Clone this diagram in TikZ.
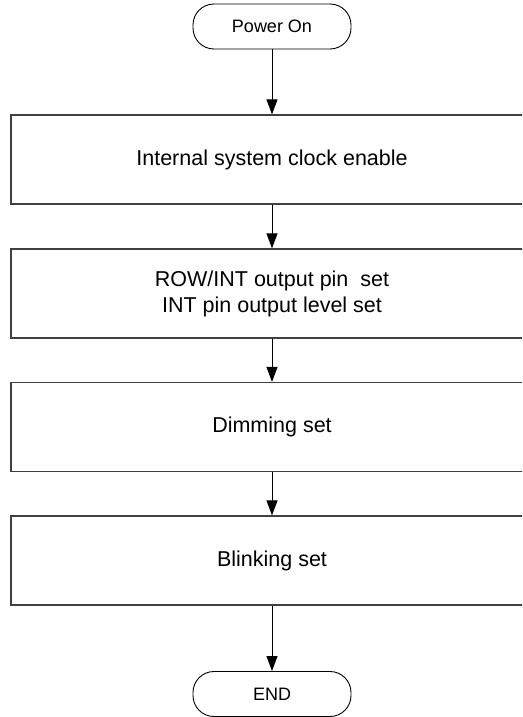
\documentclass[tikz,border=0pt]{standalone}
\usepackage{fontspec}
\setmainfont{Liberation Sans}
\usetikzlibrary{arrows.meta}
\begin{document}
\begin{tikzpicture}[x=1pt,y=-1pt,
  stepbox/.style={draw=black!75, line width=1.2pt, minimum width=522pt, minimum height=89pt, inner sep=0pt, font=\fontsize{21.5}{26}\selectfont, align=center},
  term/.style={draw=black, line width=0.9pt, rounded corners=21pt, minimum width=158pt, minimum height=45pt, inner sep=0pt, font=\fontsize{18}{22}\selectfont},
  flow/.style={draw=black, line width=1pt, -{Triangle[width=11pt,length=15pt]}}]
\useasboundingbox (0,0) rectangle (522,717);
\clip (0,0) rectangle (522,717);
\node[term] (on) at (272,26.5) {Power On};
\node[stepbox] (b1) at (272,159.5) {Internal system clock enable};
\node[stepbox] (b2) at (272,293.5) {ROW/INT output pin\ \ set\\INT pin output level set};
\node[stepbox] (b3) at (272,427) {Dimming set};
\node[stepbox] (b4) at (272,560.5) {Blinking set};
\node[term] (end) at (272,694) {END};
\draw[flow] (on) -- (b1);
\draw[flow] (b1) -- (b2);
\draw[flow] (b2) -- (b3);
\draw[flow] (b3) -- (b4);
\draw[flow] (b4) -- (end);
\end{tikzpicture}
\end{document}
